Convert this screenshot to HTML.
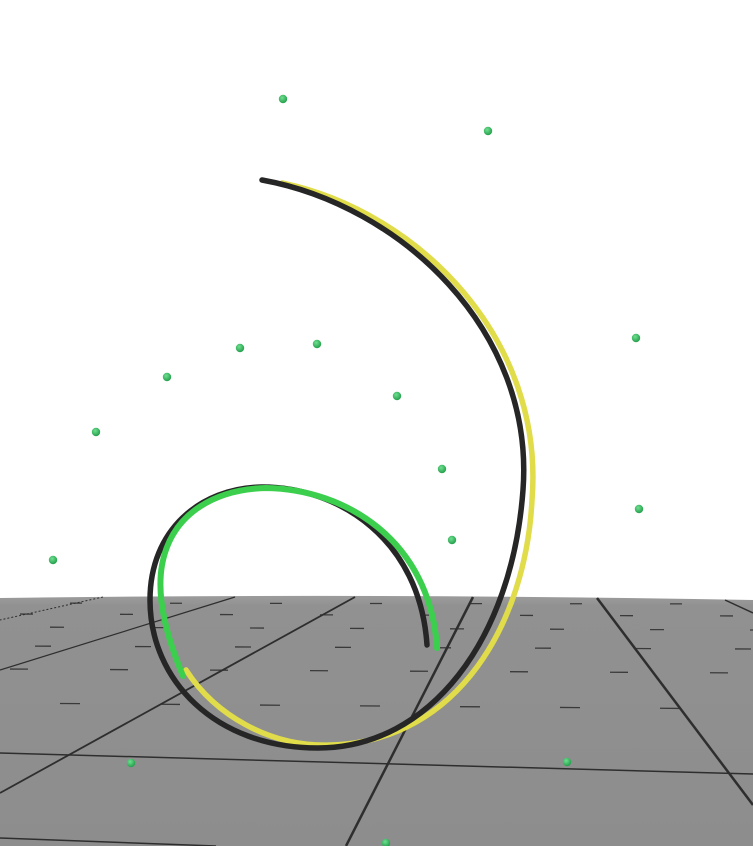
<!DOCTYPE html>
<html><head><meta charset="utf-8"><style>
html,body{margin:0;padding:0;background:#fff;}
svg{display:block;}
</style></head><body>
<svg id="scene" width="753" height="846" viewBox="0 0 753 846" xmlns="http://www.w3.org/2000/svg">
<defs>
<linearGradient id="fl" x1="0" y1="0" x2="0" y2="1">
<stop offset="0" stop-color="#9c9c9c"/><stop offset="0.04" stop-color="#919191"/><stop offset="1" stop-color="#8d8d8d"/>
</linearGradient>
<radialGradient id="dot" cx="0.4" cy="0.35" r="0.7">
<stop offset="0" stop-color="#6fe08f"/><stop offset="1" stop-color="#1f9a48"/>
</radialGradient>
</defs>
<g>
<path d="M0,598 Q376,593 753,600 L753,846 L0,846 Z" fill="url(#fl)"/>
<g id="dashes" stroke="#3a3a3a" stroke-width="1.3" fill="none">
<line x1="0" y1="603" x2="753" y2="604" stroke-dasharray="12 88" stroke-dashoffset="-70"/>
<line x1="0" y1="614" x2="753" y2="616" stroke-dasharray="13 87" stroke-dashoffset="-20"/>
<line x1="0" y1="627" x2="753" y2="630" stroke-dasharray="14 86" stroke-dashoffset="-50"/>
<line x1="0" y1="646" x2="753" y2="649" stroke-dasharray="16 84" stroke-dashoffset="-35"/>
<line x1="0" y1="669" x2="753" y2="673" stroke-dasharray="18 82" stroke-dashoffset="-10"/>
<line x1="0" y1="703" x2="753" y2="709" stroke-dasharray="20 80" stroke-dashoffset="-60"/>
</g>
<g stroke="#2e2e2e" fill="none">
<line x1="103" y1="597" x2="0" y2="620" stroke-width="1" stroke-dasharray="2 2"/>
<line x1="235" y1="597" x2="0" y2="670" stroke-width="1.2"/>
<line x1="355" y1="597" x2="0" y2="793" stroke-width="1.8"/>
<line x1="473" y1="597" x2="346" y2="846" stroke-width="2.5"/>
<line x1="597" y1="598" x2="753" y2="805" stroke-width="2.5"/>
<line x1="725" y1="600" x2="753" y2="613" stroke-width="1.5"/>
<line x1="0" y1="753" x2="753" y2="774" stroke-width="1.5"/>
<line x1="0" y1="838" x2="216" y2="846" stroke-width="1.5"/>
</g>
</g>
<g fill="none" stroke-linecap="round">
<path d="M282,183 C420,212 545,340 532,500 C526,620 460,742 330,745 C270,747 215,715 186,670" stroke="#e0dc4a" stroke-width="5.5"/>
<path d="M262,180 C400,205 535,330 523,490 C512,640 430,748 318,748 C215,748 150,680 150,600 C150,530 200,488 262,487 C340,487 420,540 427,645" stroke="#262626" stroke-width="5.5"/>
<path d="M183,676 C168,640 156,600 162,565 C172,510 220,489 266,488 C345,489 430,540 437,648" stroke="#3ccf4e" stroke-width="6"/>
</g>
<g id="dots"></g>
</svg>
<script>
const pointX = [283,488,636,240,317,167,397,96,442,639,452,53,131,567,386];
const pointY = [99,131,338,348,344,377,396,432,469,509,540,560,763,762,843];
const g = document.getElementById('dots');
for (let i = 0; i < pointX.length; i++) {
  const c = document.createElementNS('http://www.w3.org/2000/svg','circle');
  c.setAttribute('cx', pointX[i]);
  c.setAttribute('cy', pointY[i]);
  c.setAttribute('r', 4.2);
  c.setAttribute('fill', 'url(#dot)');
  
  
  g.appendChild(c);
}
</script>
</body></html>
